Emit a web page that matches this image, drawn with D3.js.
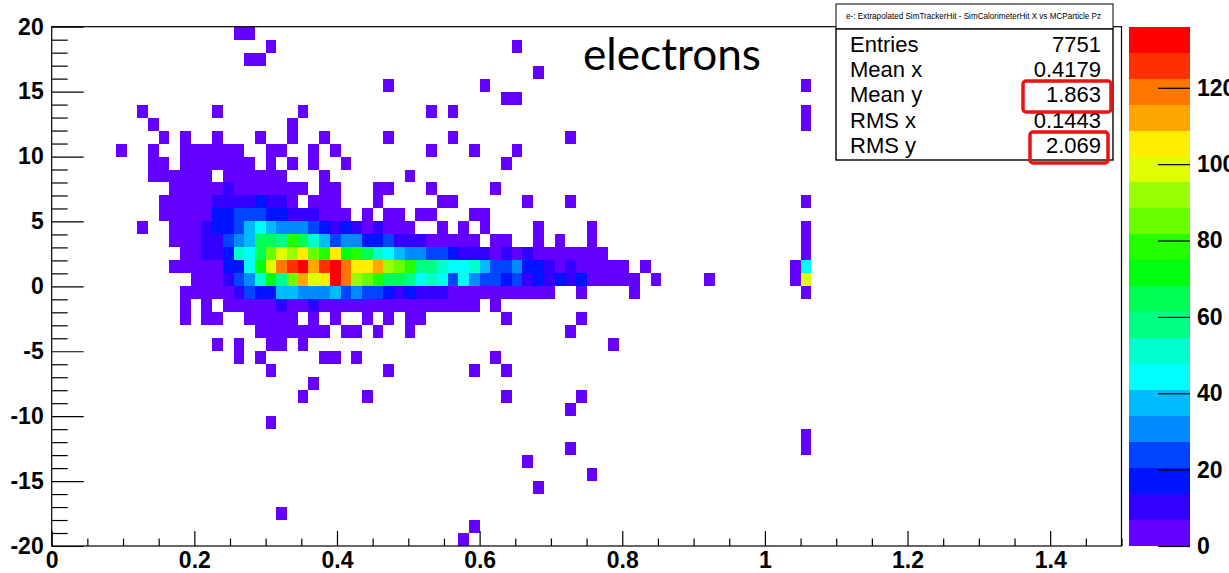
<!DOCTYPE html>
<html>
<head>
<meta charset="utf-8">
<script src="https://cdn.jsdelivr.net/npm/d3@7"></script>
<style>
  body { margin: 0; background: #fff; }
  svg { display: block; }
</style>
</head>
<body>
<svg id="chart" width="1229" height="573"></svg>
<script>
// histogram binning: 100 bins in x (0..1.5), 40 bins in y (-20..20)
const xDomain = [0, 1.5];
const yDomain = [-20, 20];
const xBinWidth = 0.015;
const yBinWidth = 1;
const zMax = 136;

const xTicks = [0, 0.2, 0.4, 0.6, 0.8, 1, 1.2, 1.4];
const yTicks = [-20, -15, -10, -5, 0, 5, 10, 15, 20];
const zTicks = [0, 20, 40, 60, 80, 100, 120];

// one count per colour band, codes 0..9 a..j
const bandCodes = "0123456789abcdefghij";
const bandCounts = [2, 10, 17, 24, 31, 37, 44, 51, 58, 65, 72, 78, 85, 92, 99, 106, 112, 119, 126, 134];

// rows from top (y bin 19..20) to bottom (y bin -20..-19); runs of [first x bin, band codes]
const rows = [
  [[17, "00"]],
  [[20, "0"], [43, "0"]],
  [[18, "00"]],
  [[45, "0"]],
  [[31, "0"], [40, "0"], [70, "0"]],
  [[42, "00"]],
  [[8, "0"], [15, "0"], [23, "0"], [35, "0"], [37, "0"], [70, "0"]],
  [[9, "0"], [22, "0"], [70, "0"]],
  [[10, "0"], [12, "0"], [15, "0"], [19, "0"], [22, "0"], [25, "0"], [31, "0"], [37, "0"], [48, "0"]],
  [[6, "0"], [9, "0"], [12, "000000"], [20, "00"], [24, "0"], [26, "0"], [35, "0"], [39, "0"], [43, "0"]],
  [[9, "00"], [12, "0000000"], [20, "0"], [22, "0"], [24, "0"], [27, "0"], [42, "0"]],
  [[9, "000000"], [16, "000000"], [25, "0"], [33, "0"]],
  [[11, "00000 1 0000000"], [25, "00"], [30, "00"], [35, "0"], [41, "0"]],
  [[10, "00000 1111 2 11 0"], [24, "000"], [30, "0"], [36, "00"], [44, "0"], [48, "0"], [70, "0"]],
  [[10, "00000 22 333 22 111 000"], [29, "0"], [31, "00"], [34, "00"], [39, "00"]],
  [[8, "0"], [11, "000 1 22 3 5 6 5 444 3 2 1 2 1 0 1 000"], [36, "0"], [38, "0"], [40, "0"], [45, "0"], [50, "0"], [70, "0"]],
  [[11, "000 11 3 4 5 9 9 8 b 9 7 5 3 44 22 3 111 00000"], [41, "00"], [45, "0"], [47, "0"], [50, "0"], [70, "0"]],
  [[12, "00 11 2 7 6 9 c e d f c b f a b 9 7 6 5 44 33 2 111 0 1 0 1 0000000"], [70, "0"]],
  [[11, "00000 22 6 a e h i j g i j h ff g d c b 88 7 66 7 5 33 4 22 1 0 1 00000"], [55, "0"], [69, "06"]],
  [[13, "000 1 3 4 7 a 8 c g e f j h d c b 99 8 6 7 6 3 6 4 33 2 3 1 2 1 2 1 2 00000"], [56, "0"], [61, "0"], [69, "0e"]],
  [[12, "00000 1 3 22 55 444 5 3 4 33 2 1 2 111 0000000000"], [49, "0"], [54, "0"], [70, "0"]],
  [[12, "0"], [14, "0"], [16, "00000 1 00 1 000000000000000"], [41, "0"]],
  [[12, "0"], [14, "00"], [18, "00000"], [24, "0"], [26, "0"], [29, "0"], [31, "0"], [33, "00"], [42, "0"], [49, "0"]],
  [[19, "0000000"], [27, "00"], [30, "0"], [33, "0"], [48, "0"]],
  [[15, "0"], [17, "0"], [20, "00"], [23, "0"], [52, "0"]],
  [[17, "0"], [19, "0"], [25, "00"], [28, "0"], [41, "0"]],
  [[20, "0"], [31, "0"], [39, "0"], [42, "0"]],
  [[24, "0"]],
  [[23, "0"], [29, "0"], [42, "0"], [49, "0"]],
  [[48, "0"]],
  [[20, "0"]],
  [[70, "0"]],
  [[48, "0"], [70, "0"]],
  [[44, "0"]],
  [[50, "0"]],
  [[45, "0"]],
  [],
  [[21, "0"]],
  [[39, "0"]],
  [[38, "0"]]
];

const statNames = ["Entries", "Mean x", "Mean y", "RMS x", "RMS y"];
const statValues = ["7751", "0.4179", "1.863", "0.1443", "2.069"];
const boxedStats = ["Mean y", "RMS y"];
const titleText = "e-: Extrapolated SimTrackerHit - SimCalorimeterHit X vs MCParticle Pz";

const svg = d3.select("#chart");
const axisFont = "'Liberation Sans', Arial, Helvetica, sans-serif";

const x = d3.scaleLinear().domain(xDomain).range([51.7, 1121.5]);
const y = d3.scaleLinear().domain(yDomain).range([546, 26.7]);
const z = d3.scaleLinear().domain([0, zMax]).range([546, 26.7]);

// ROOT "pretty" palette, 20 contour levels
const palette = d3.range(20).map(k => {
  const idx = Math.floor((k + 0.99) * 50 / 20);
  return d3.hsl(280 - (idx + 1) * 5.6, 1, 0.5).formatHex();
});
const color = d3.scaleQuantize().domain([0, zMax]).range(palette);

const cells = [];
rows.forEach((runs, r) => {
  runs.forEach(([c0, s]) => {
    s.replace(/ /g, "").split("").forEach((ch, i) => {
      cells.push({ x0: (c0 + i) * xBinWidth, y0: 19 - r, n: bandCounts[bandCodes.indexOf(ch)] });
    });
  });
});

svg.append("g")
  .attr("shape-rendering", "crispEdges")
  .selectAll("rect")
  .data(cells)
  .join("rect")
    .attr("x", d => x(d.x0))
    .attr("width", d => x(d.x0 + xBinWidth) - x(d.x0))
    .attr("y", d => y(d.y0 + yBinWidth))
    .attr("height", d => y(d.y0) - y(d.y0 + yBinWidth))
    .attr("fill", d => color(d.n));

// frame
svg.append("rect")
  .attr("x", x(0)).attr("y", y(20))
  .attr("width", x(1.5) - x(0)).attr("height", y(-20) - y(20))
  .attr("fill", "none").attr("stroke", "#000").attr("stroke-width", 1.2);

function styleAxis(g) {
  g.select(".domain").remove();
  g.selectAll("line").attr("stroke", "#000").attr("stroke-width", 1.2);
  g.attr("font-family", axisFont).attr("font-size", 23).attr("font-weight", "bold");
  g.selectAll("text").attr("fill", "#000");
}

// y axis
svg.append("g").attr("transform", `translate(${x(0)},0)`)
  .call(d3.axisLeft(y).tickValues(d3.range(-20, 21).filter(v => v % 5 !== 0))
    .tickSizeInner(-16).tickSizeOuter(0).tickFormat(() => ""))
  .call(styleAxis);
svg.append("g").attr("transform", `translate(${x(0)},0)`)
  .call(d3.axisLeft(y).tickValues(yTicks).tickSizeInner(-32).tickSizeOuter(0)
    .tickPadding(8).tickFormat(d => String(d)))
  .call(styleAxis);

// x axis
svg.append("g").attr("transform", `translate(0,${y(-20)})`)
  .call(d3.axisBottom(x).tickValues(d3.range(0, 31).filter(i => i % 4 !== 0).map(i => i * 0.05))
    .tickSizeInner(-7.5).tickSizeOuter(0).tickFormat(() => ""))
  .call(styleAxis);
svg.append("g").attr("transform", `translate(0,${y(-20)})`)
  .call(d3.axisBottom(x).tickValues(xTicks).tickSizeInner(-15).tickSizeOuter(0)
    .tickPadding(6).tickFormat(d => String(d)))
  .call(styleAxis);

// colour bar
const bandEdges = [0, ...color.thresholds(), zMax];
svg.append("g")
  .attr("shape-rendering", "crispEdges")
  .selectAll("rect")
  .data(palette)
  .join("rect")
    .attr("x", 1129)
    .attr("width", 61)
    .attr("y", (c, i) => z(bandEdges[i + 1]))
    .attr("height", (c, i) => z(bandEdges[i]) - z(bandEdges[i + 1]))
    .attr("fill", c => c);
svg.append("g").attr("transform", "translate(1190,0)")
  .call(d3.axisRight(z).tickValues(zTicks).tickSizeInner(-32).tickSizeOuter(0)
    .tickPadding(7).tickFormat(d => String(d)))
  .call(styleAxis);

// title pave
svg.append("rect")
  .attr("x", 836).attr("y", 4).attr("width", 277).attr("height", 25)
  .attr("fill", "#fff").attr("stroke", "#000").attr("stroke-width", 1);
svg.append("text")
  .attr("x", 846).attr("y", 19)
  .attr("font-family", axisFont).attr("font-size", 8.5)
  .attr("textLength", 255).attr("lengthAdjust", "spacingAndGlyphs")
  .text(titleText);

// stats box
svg.append("rect")
  .attr("x", 836).attr("y", 29).attr("width", 277).attr("height", 131)
  .attr("fill", "#fff").attr("stroke", "#000").attr("stroke-width", 1.4);
const stats = svg.append("g").attr("font-family", axisFont).attr("font-size", 22).attr("fill", "#000");
statNames.forEach((name, i) => {
  const by = 51.5 + i * 25.4;
  stats.append("text").attr("x", 850).attr("y", by).text(name);
  stats.append("text").attr("x", 1101).attr("y", by).attr("text-anchor", "end").text(statValues[i]);
});
svg.append("rect")
  .attr("x", 1023).attr("y", 81).attr("width", 88).attr("height", 31).attr("rx", 3)
  .attr("fill", "none").attr("stroke", "#ee1111").attr("stroke-width", 3.5);
svg.append("rect")
  .attr("x", 1030).attr("y", 132).attr("width", 78).attr("height", 31).attr("rx", 3)
  .attr("fill", "none").attr("stroke", "#ee1111").attr("stroke-width", 3.5);

// annotation
svg.append("text")
  .attr("x", 583).attr("y", 70)
  .attr("font-family", "Lato, 'Open Sans', sans-serif").attr("font-size", 44)
  .attr("textLength", 178).attr("lengthAdjust", "spacingAndGlyphs")
  .attr("fill", "#000")
  .text("electrons");
</script>
</body>
</html>
